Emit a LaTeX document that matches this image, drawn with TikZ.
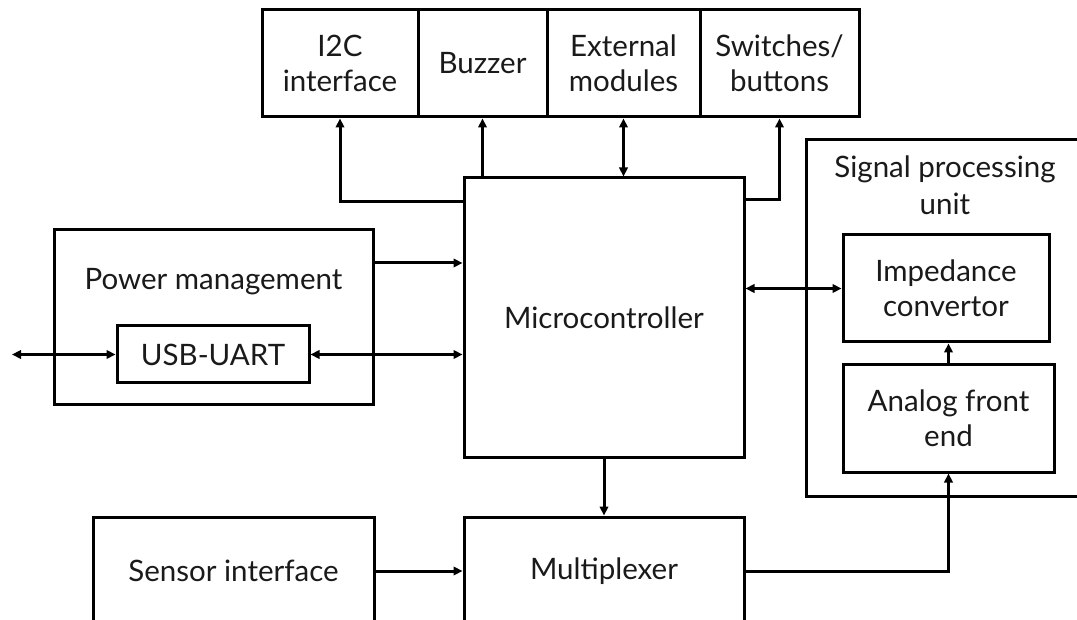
\documentclass[tikz,border=0pt]{standalone}
\usepackage{fontspec}
\setmainfont{Lato}
\usetikzlibrary{arrows.meta}

\definecolor{ink}{HTML}{1A1A1A}

\tikzset{
  blk/.style={draw=black, line width=3pt, fill=white, align=center, text=ink,
              inner sep=0pt, font=\fontsize{29.5}{35}\selectfont},
  lbl/.style={align=center, inner sep=0pt, text=ink, font=\fontsize{29.5}{37}\selectfont},
  wire/.style={draw=black, line width=3pt},
  arr/.style={wire, -{Triangle[length=9pt,width=8.5pt]}},
  biarr/.style={wire, {Triangle[length=9pt,width=8.5pt]}-{Triangle[length=9pt,width=8.5pt]}}
}

\begin{document}
\begin{tikzpicture}[x=1pt, y=-1pt]
\useasboundingbox (0,0) rectangle (1077,620);
\clip (0,0) rectangle (1077,620);
\fill[white] (0,0) rectangle (1077,620);

% peripheral row
\node[blk, minimum width=156pt, minimum height=107pt] (i2c) at (340,63.5) {I2C\\interface};
\node[blk, minimum width=129pt, minimum height=107pt] (buz) at (482.5,63.5) {Buzzer};
\node[blk, minimum width=153pt, minimum height=107pt] (ext) at (623.5,63.5) {External\\modules};
\node[blk, minimum width=159pt, minimum height=107pt] (sw) at (779.5,63.5) {Switches/\\buttons};

% core
\node[blk, minimum width=280pt, minimum height=279pt] (mcu) at (604,317.5) {Microcontroller};

% power management with USB-UART inside
\node[blk, minimum width=319pt, minimum height=175pt] (pwr) at (213.5,317.5) {};
\node[lbl] (pwrlbl) at (213.5,282) {Power management};
\node[blk, minimum width=192pt, minimum height=57pt] (usb) at (213,354.5) {USB-UART};
\coordinate (usbext) at (12,354.5);

% signal processing unit
\node[blk, minimum width=280pt, minimum height=356pt] (spu) at (946,318) {};
\node[lbl] (spulbl) at (945,185) {Signal processing\\unit};
\node[blk, minimum width=206pt, minimum height=107pt] (imp) at (946,288.5) {Impedance\\convertor};
\node[blk, minimum width=211pt, minimum height=107pt] (afe) at (948.5,418.5) {Analog front\\end};

% bottom row
\node[blk, minimum width=281pt, minimum height=108pt] (sen) at (233.5,571) {Sensor interface};
\node[blk, minimum width=280pt, minimum height=108pt] (mux) at (604,571) {Multiplexer};

% connections to the peripherals
\draw[arr] ([yshift=-25pt]mcu.north west) -| (i2c.south);
\draw[arr] (buz.south |- mcu.north) -- (buz.south);
\draw[biarr] (ext.south |- mcu.north) -- (ext.south);
\draw[arr] ([yshift=-23pt]mcu.north east) -| (sw.south);

% power and USB
\draw[arr] ([yshift=54.5pt]pwr.east) coordinate (p1) -- (p1 -| mcu.west);
\draw[biarr] (usb.east) -- (usb.east -| mcu.west);
\draw[biarr] (usbext) -- (usb.west);

% signal path
\draw[biarr] (mcu.east |- imp.west) -- (imp.west);
\draw[arr] (afe.north) -- (afe.north |- imp.south);
\draw[arr] (mcu.south) -- (mux.north);
\draw[arr] (sen.east) -- (mux.west);
\draw[arr] (mux.east) -| (afe.south);
\end{tikzpicture}
\end{document}
